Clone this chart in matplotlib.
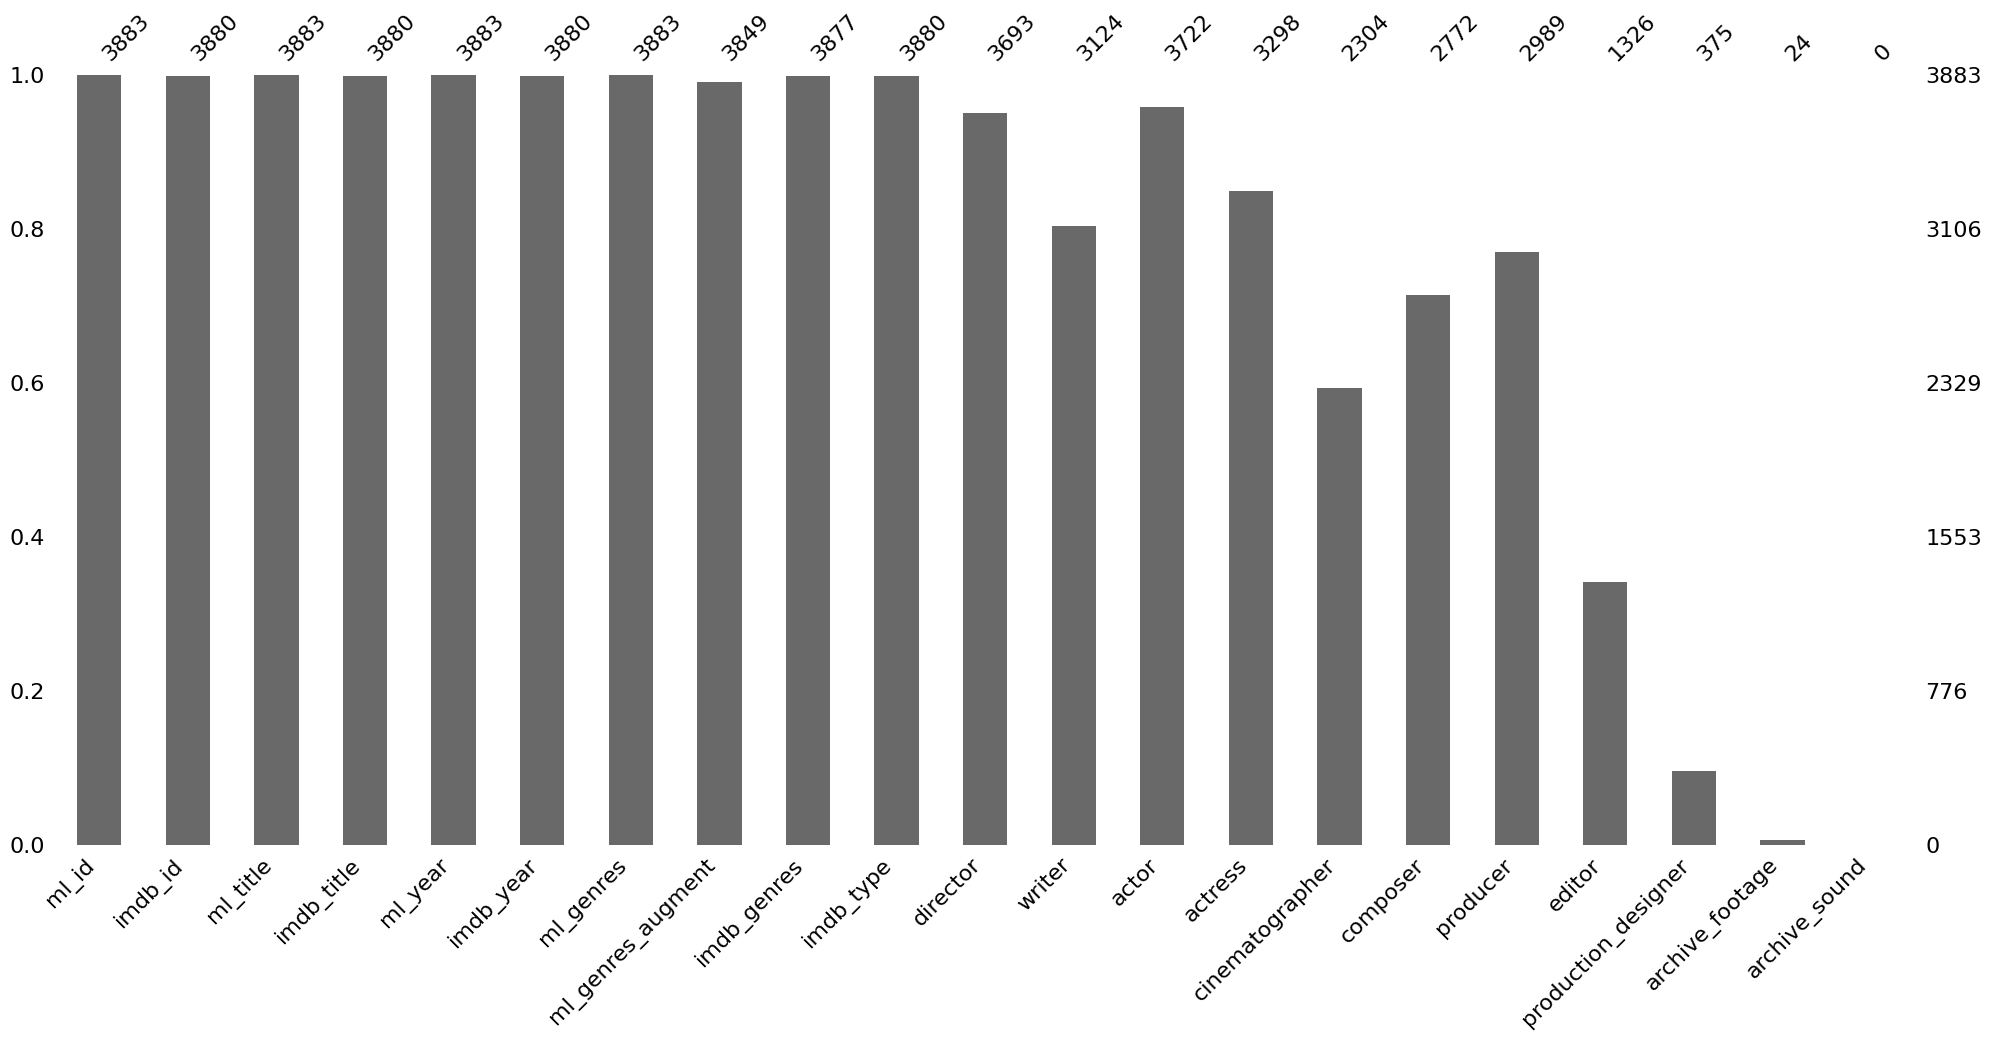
import matplotlib
matplotlib.use('Agg')
import matplotlib.pyplot as plt
import numpy as np

# column names and non-null counts
columns = ['ml_id', 'imdb_id', 'ml_title', 'imdb_title', 'ml_year', 'imdb_year',
           'ml_genres', 'ml_genres_augment', 'imdb_genres', 'imdb_type', 'director',
           'writer', 'actor', 'actress', 'cinematographer', 'composer', 'producer',
           'editor', 'production_designer', 'archive_footage', 'archive_sound']
counts = [3883, 3880, 3883, 3880, 3883, 3880, 3883, 3849, 3877, 3880, 3693,
          3124, 3722, 3298, 2304, 2772, 2989, 1326, 375, 24, 0]
n_rows = 3883

fs = 16
fig = plt.figure(figsize=(19.91, 10.42), dpi=100)
ax1 = fig.add_axes([0.0276, 0.189, 0.9344, 0.739])

x = np.arange(len(columns))
frac = [c / n_rows for c in counts]
ax1.bar(x, frac, width=0.5, color='dimgray')
ax1.set_xlim(-0.5, len(columns) - 0.5)
ax1.set_ylim(0, 1)
ax1.set_xticks(x)
ax1.set_xticklabels(columns, rotation=45, ha='right', fontsize=fs)
ax1.set_yticks([0, 0.2, 0.4, 0.6, 0.8, 1.0])
ax1.set_yticklabels(['0.0', '0.2', '0.4', '0.6', '0.8', '1.0'], fontsize=fs)

# right axis with absolute counts
ax2 = ax1.twinx()
ax2.set_ylim(0, 1)
ax2.set_yticks(ax1.get_yticks())
ax2.set_yticklabels([int(t * n_rows) for t in ax1.get_yticks()], fontsize=fs)

# top axis with the counts per column
ax3 = ax1.twiny()
ax3.set_xlim(ax1.get_xlim())
ax3.set_xticks(x)
ax3.set_xticklabels([str(c) for c in counts], rotation=45, ha='left', fontsize=fs)

for ax in (ax1, ax2, ax3):
    for s in ax.spines.values():
        s.set_visible(False)
    ax.xaxis.set_ticks_position('none')
    ax.yaxis.set_ticks_position('none')
ax3.tick_params(axis='x', top=False, labeltop=True, bottom=False, labelbottom=False)

fig.savefig('out.png', dpi=100)
